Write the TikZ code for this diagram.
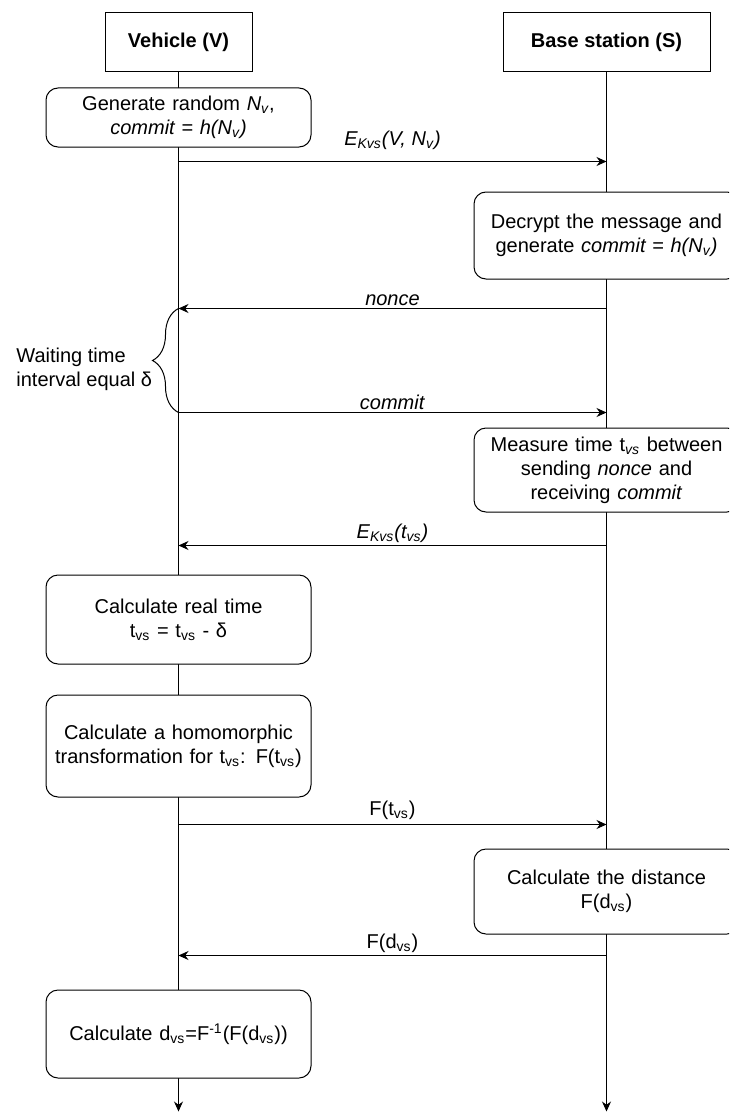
\documentclass[tikz,border=0pt]{standalone}
\usepackage{fontspec}
\setmainfont{Liberation Sans}
\usetikzlibrary{arrows.meta, positioning, decorations.pathreplacing}

\begin{document}
\begin{tikzpicture}[
  font=\fontsize{10}{12}\selectfont,
  actor/.style={rectangle, draw, fill=white, line width=0.5pt, minimum width=#1, minimum height=29.5pt, font=\fontsize{10}{12}\selectfont\bfseries},
  action/.style={rectangle, draw, fill=white, line width=0.5pt, rounded corners=6pt, minimum width=132.5pt, text width=128pt, align=center, inner sep=2pt},
  lifeline/.style={-{Stealth[length=5pt, width=4.5pt]}, line width=0.5pt},
  msg/.style={-{Stealth[length=5pt, width=4.5pt]}, line width=0.6pt},
  msglabel/.style={midway, above, inner sep=1pt}
]
\useasboundingbox (0,0) rectangle (364.5pt,-556.5pt);
\clip (0,0) rectangle (364.5pt,-556.5pt);

\node[actor=73.5pt] (vehicle) at (89.25pt,-21.25pt) {Vehicle (V)};
\node[actor=103.5pt, right=125pt of vehicle] (station) {Base station (S)};

% Lifelines
\coordinate[below=519.5pt of vehicle.south] (vehicle-end);
\coordinate[below=519.5pt of station.south] (station-end);
\foreach \p in {vehicle, station}
  \draw[lifeline] (\p.south) -- (\p-end);

% Vehicle side
\node[action, minimum height=29.5pt, below=7.5pt of vehicle] (generate) {Generate random \textit{N\textsubscript{v}},\\\textit{commit = h(N\textsubscript{v})}};
\node[action, minimum height=44.5pt, below=213.5pt of generate] (realtime) {Calculate real time\\t\textsubscript{vs} = t\textsubscript{vs} - δ};
\node[action, minimum height=51pt, below=15pt of realtime] (transform) {Calculate a homomorphic\\transformation for t\textsubscript{vs}: F(t\textsubscript{vs})};
\node[action, minimum height=44pt, below=96pt of transform] (inverse) {Calculate d\textsubscript{vs}=F\textsuperscript{-1}(F(d\textsubscript{vs}))};

% Station side
\node[action, minimum height=43.5pt, below=59.5pt of station] (decrypt) {Decrypt the message and\\generate \textit{commit = h(N\textsubscript{v})}};
\node[action, minimum height=42pt, below=74pt of decrypt] (measure) {Measure time t\textsubscript{\textit{vs}} between\\sending \textit{nonce} and\\receiving \textit{commit}};
\node[action, minimum height=42.5pt, below=168pt of measure] (distance) {Calculate the distance\\F(d\textsubscript{vs})};

% Messages
\draw[msg] ([yshift=-44.5pt]vehicle.south) -- ([yshift=-44.5pt]station.south) node[msglabel, yshift=4.5pt] {\textit{E\textsubscript{Kvs}(V, N\textsubscript{v})}};
\draw[msg] ([yshift=-118pt]station.south) -- ([yshift=-118pt]vehicle.south) node[msglabel] {\textit{nonce}};
\draw[msg] ([yshift=-170pt]vehicle.south) -- ([yshift=-170pt]station.south) node[msglabel] {\textit{commit}};
\draw[msg] ([yshift=-236.5pt]station.south) -- ([yshift=-236.5pt]vehicle.south) node[msglabel] {\textit{E\textsubscript{Kvs}(t\textsubscript{vs})}};
\draw[msg] ([yshift=-376pt]vehicle.south) -- ([yshift=-376pt]station.south) node[msglabel, yshift=1pt] {F(t\textsubscript{vs})};
\draw[msg] ([yshift=-441.5pt]station.south) -- ([yshift=-441.5pt]vehicle.south) node[msglabel] {F(d\textsubscript{vs})};

% Waiting interval
\draw[decorate, decoration={brace, amplitude=13pt}, line width=0.5pt] ([yshift=-170pt]vehicle.south) -- ([yshift=-118pt]vehicle.south);
\node[align=left, anchor=west, inner sep=0pt] (waiting) at (8pt,-184.5pt) {Waiting time\\interval equal δ};

\end{tikzpicture}
\end{document}
